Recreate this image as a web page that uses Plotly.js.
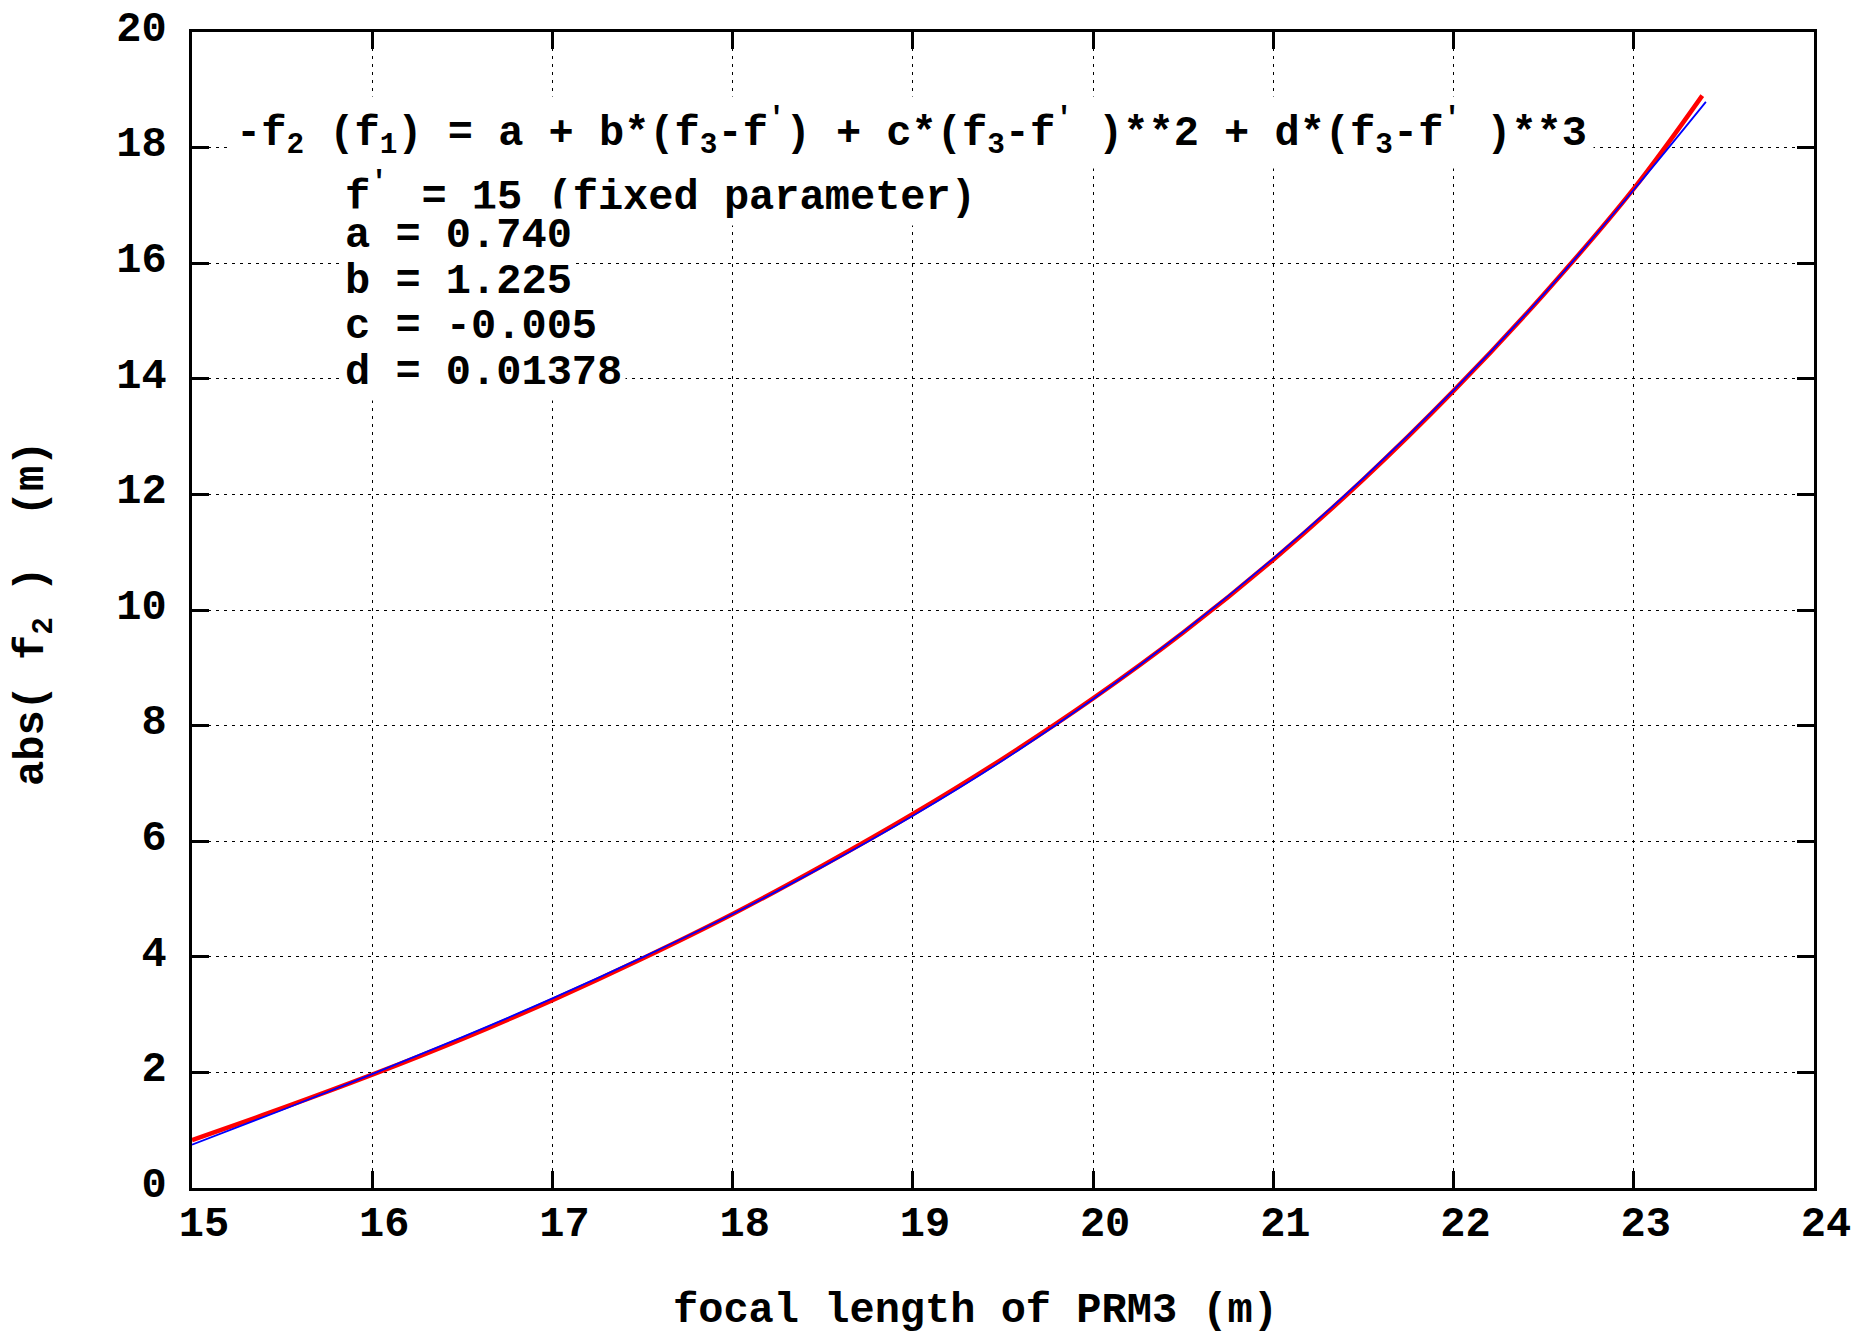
<!DOCTYPE html>
<html>
<head>
<meta charset="utf-8">
<script src="https://cdn.plot.ly/plotly-3.0.1.min.js"></script>
<style>
  html, body { margin: 0; padding: 0; background: #ffffff; }
  #chart { width: 1857px; height: 1335px; }
</style>
</head>
<body>
<div id="chart"></div>
<script>
// ---- data ----
const fitF3   = [15, 15.5, 16, 16.5, 17, 17.5, 18, 18.5, 19, 19.5, 20, 20.5, 21, 21.5, 22, 22.5, 23, 23.4];
const fitF2   = [0.75, 1.35, 1.97, 2.61, 3.28, 3.99, 4.74, 5.56, 6.44, 7.40, 8.46, 9.62, 10.89, 12.28, 13.80, 15.46, 17.27, 18.79];
const dataF3  = [15, 15.5, 16, 16.5, 17, 17.5, 18, 18.5, 19, 19.5, 20, 20.5, 21, 21.5, 22, 22.5, 23, 23.38];
const dataF2  = [0.83, 1.38, 1.96, 2.58, 3.25, 3.97, 4.74, 5.58, 6.47, 7.43, 8.47, 9.61, 10.87, 12.26, 13.79, 15.46, 17.29, 18.90];

const xTickVals = [15, 16, 17, 18, 19, 20, 21, 22, 23, 24];
const yTickVals = [0, 2, 4, 6, 8, 10, 12, 14, 16, 18, 20];

const formulaLine = "-f<sub>2</sub> (f<sub>1</sub>) = a + b*(f<sub>3</sub>-f<sup>\u2032</sup>) + c*(f<sub>3</sub>-f<sup>'</sup>\u00a0)**2 + d*(f<sub>3</sub>-f<sup>'</sup>\u00a0)**3";
const paramLines = [
  "f<sup>'</sup>\u2009 = 15 (fixed parameter)",
  "a = 0.740",
  "b = 1.225",
  "c = -0.005",
  "d = 0.01378"
];
const xTitle = "focal length of PRM3 (m)";
const yTitle = "abs( f<sub>2</sub> )\u00a0\u00a0(m)";

// ---- layout / style ----
const FONT = "'Liberation Mono', 'Courier New', monospace";
const plotL = 192, plotR = 1814, plotT = 32, plotB = 1188;
const W = 1857, H = 1335;
const pw = plotR - plotL, ph = plotB - plotT;
const px2paperX = p => (p - plotL) / pw;
const px2paperY = p => (plotB - p) / ph;

const traces = [
  {
    x: dataF3, y: dataF2, type: 'scatter', mode: 'lines',
    line: { color: '#ff0000', width: 4.5, shape: 'spline' },
    showlegend: false, hoverinfo: 'skip'
  },
  {
    x: fitF3, y: fitF2, type: 'scatter', mode: 'lines',
    line: { color: '#0000ff', width: 1.8, shape: 'spline' },
    showlegend: false, hoverinfo: 'skip'
  }
];

const annotations = [];
annotations.push({
  text: formulaLine, xref: 'paper', yref: 'paper',
  x: px2paperX(229), y: px2paperY(132), xanchor: 'left', yanchor: 'middle',
  showarrow: false, bgcolor: '#ffffff', borderpad: 6,
  font: { family: FONT, size: 42, color: '#000000', weight: 'bold' }
});
const paramY = [194, 236, 282, 327, 373];
paramLines.forEach((t, i) => {
  annotations.push({
    text: t, xref: 'paper', yref: 'paper',
    x: px2paperX(341), y: px2paperY(paramY[i]), xanchor: 'left', yanchor: 'middle',
    showarrow: false, bgcolor: '#ffffff', borderpad: 3,
    font: { family: FONT, size: 42, color: '#000000', weight: 'bold' }
  });
});
annotations.push({
  text: xTitle, xref: 'paper', yref: 'paper',
  x: px2paperX(975), y: px2paperY(1311), xanchor: 'center', yanchor: 'middle',
  showarrow: false,
  font: { family: FONT, size: 42, color: '#000000', weight: 'bold' }
});
annotations.push({
  text: yTitle, xref: 'paper', yref: 'paper', textangle: -90,
  x: px2paperX(34), y: px2paperY(614), xanchor: 'center', yanchor: 'middle',
  showarrow: false,
  font: { family: FONT, size: 42, color: '#000000', weight: 'bold' }
});

const axisCommon = {
  showline: true, linecolor: '#000000', linewidth: 3, mirror: 'allticks',
  ticks: 'inside', ticklen: 17, tickwidth: 3, tickcolor: '#000000',
  showgrid: true, gridcolor: '#000000', gridwidth: 1, griddash: '3px,5px',
  zeroline: false, fixedrange: true,
  tickfont: { family: FONT, size: 42, color: '#000000', weight: 'bold' },
  automargin: false
};

const layout = {
  width: W, height: H,
  margin: { l: plotL, r: W - plotR, t: plotT, b: H - plotB, pad: 0 },
  paper_bgcolor: '#ffffff', plot_bgcolor: '#ffffff',
  showlegend: false,
  xaxis: Object.assign({}, axisCommon, {
    range: [15, 24], tickmode: 'array', tickvals: xTickVals,
    ticklabelshift: 12, ticklabelstandoff: -5
  }),
  yaxis: Object.assign({}, axisCommon, {
    range: [0, 20], tickmode: 'array', tickvals: yTickVals,
    ticklabelshift: -6, ticklabelstandoff: 14
  }),
  annotations: annotations
};

Plotly.newPlot('chart', traces, layout, { staticPlot: true, displayModeBar: false });
</script>
</body>
</html>
